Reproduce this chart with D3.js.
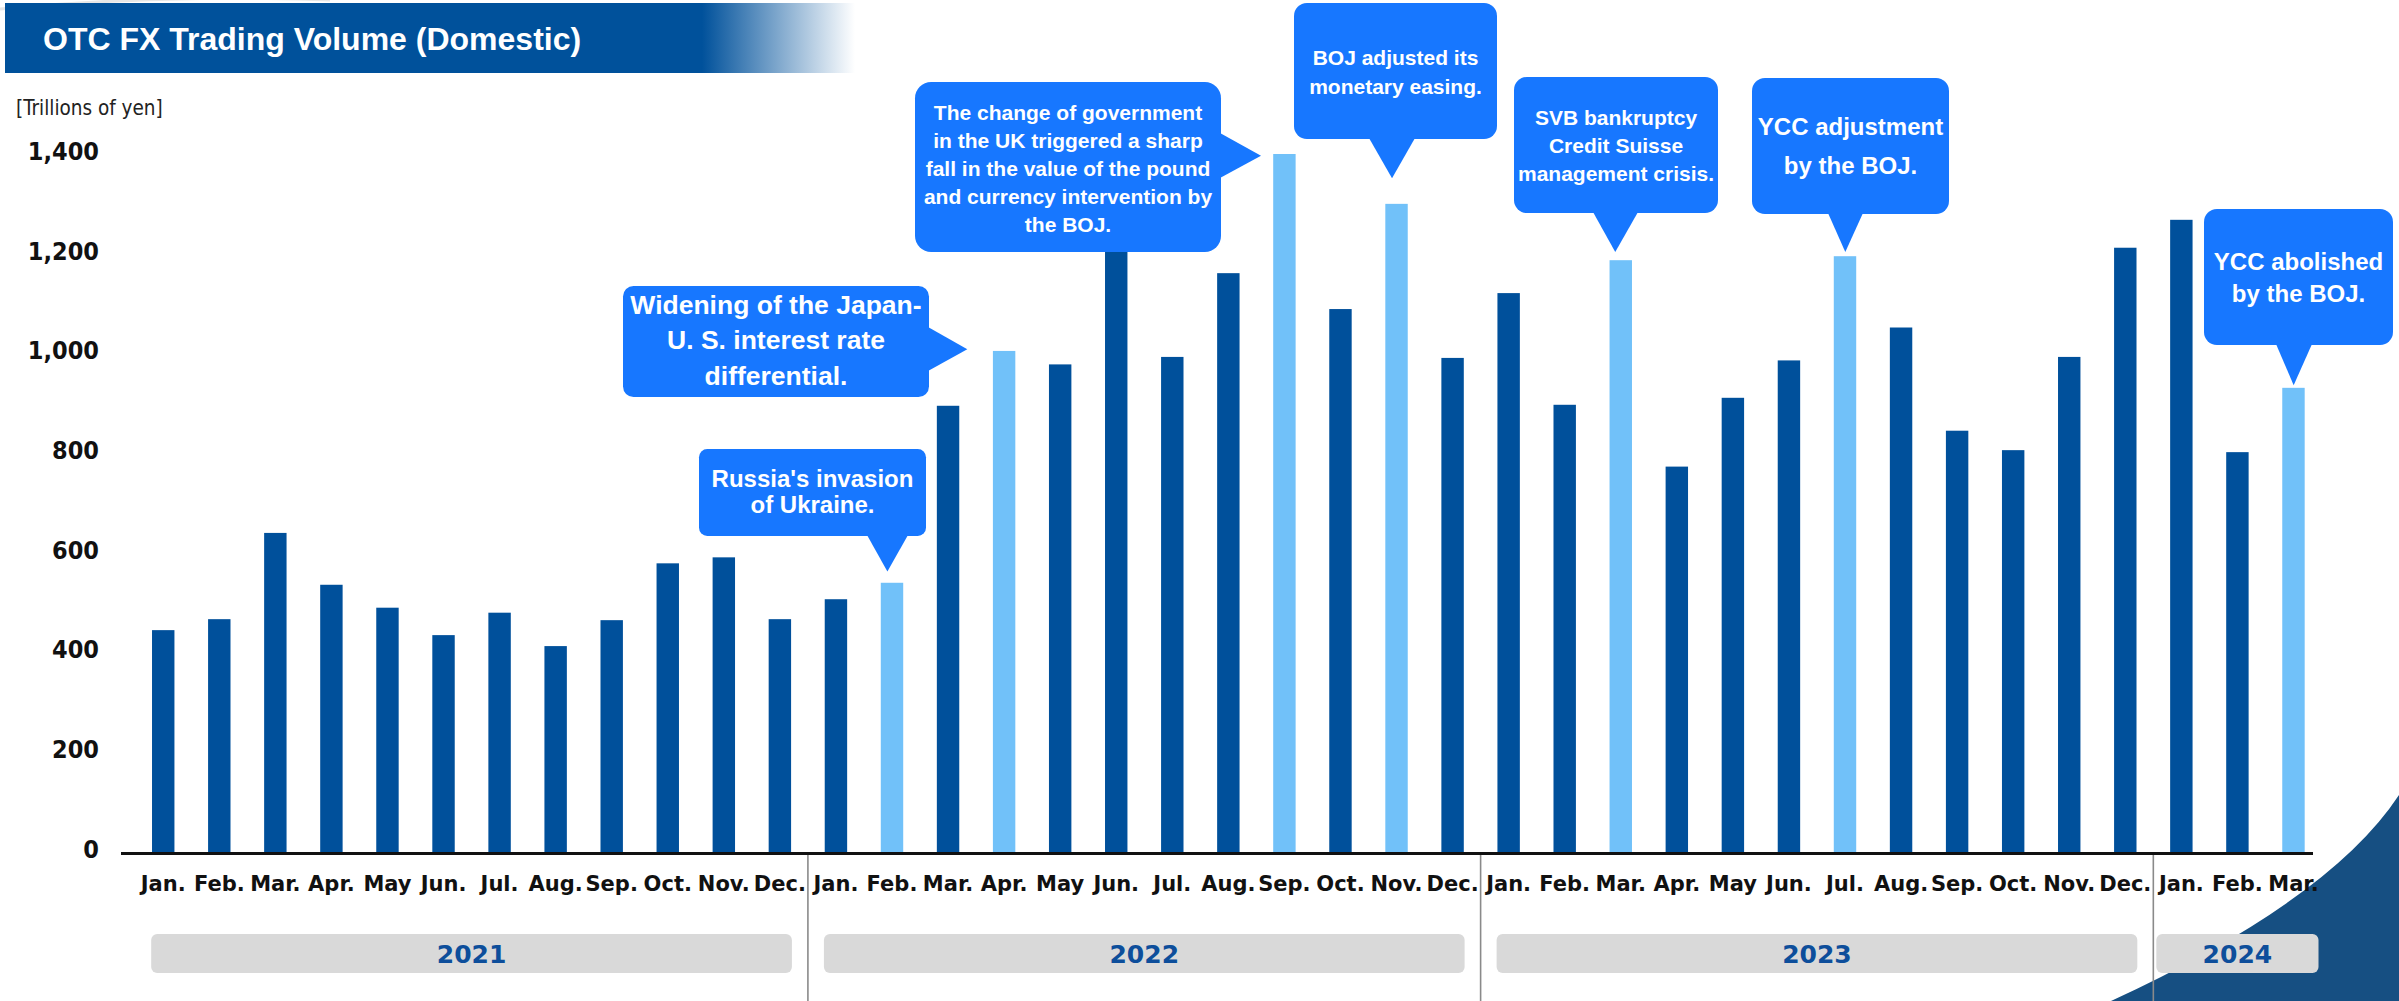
<!DOCTYPE html>
<html>
<head>
<meta charset="utf-8">
<script src="https://cdn.jsdelivr.net/npm/d3@7"></script>
<style>
    body { margin: 0; background: #ffffff; }
    svg { display: block; }
</style>
</head>
<body>
<div id="chart"></div>
<script>

// ---- data ----
const months = ["Jan.", "Feb.", "Mar.", "Apr.", "May", "Jun.", "Jul.", "Aug.", "Sep.", "Oct.", "Nov.", "Dec."];
const yearLabels = ["2021", "2022", "2023", "2024"];

// trillions of yen
const vol2021 = [445, 467, 640, 536, 490, 435, 480, 413, 465, 579, 591, 467];
const vol2022 = [507, 540, 895, 1005, 978, 1232, 993, 1161, 1400, 1089, 1300, 991];
const vol2023 = [1121, 897, 1187, 773, 911, 986, 1195, 1052, 845, 806, 993, 1212];
const vol2024 = [1268, 802, 931];

const yTicks = [0, 200, 400, 600, 800, 1000, 1200, 1400];

// months with an event callout (drawn in light blue)
const eventMonths = ["2022-Feb.", "2022-Apr.", "2022-Sep.", "2022-Nov.", "2023-Mar.", "2023-Jul.", "2024-Mar."];
const eventTexts = [
    ["Russia's invasion", "of Ukraine."],
    ["Widening of the Japan-", "U. S. interest rate", "differential."],
    ["The change of government", "in the UK triggered a sharp", "fall in the value of the pound", "and currency intervention by", "the BOJ."],
    ["BOJ adjusted its", "monetary easing."],
    ["SVB bankruptcy", "Credit Suisse", "management crisis."],
    ["YCC adjustment", "by the BOJ."],
    ["YCC abolished", "by the BOJ."]
];

// callout placement (layout only): box, pointer side, pointer base, tip offset from bar top
const calloutLayout = [
    { box: [699, 449, 227, 87],  side: "bottom", base: [867, 908],  tip: [-4.6, -11.3], fs: 24,   first: 30.3, gap: 25.7 },
    { box: [623, 286, 306, 111], side: "right",  base: [327, 371],  tip: [-36.8, -1.6], fs: 26.5, first: 19,   gap: 35.3 },
    { box: [915, 82, 306, 170],  side: "right",  base: [133, 178],  tip: [-23.4, 1.7],  fs: 21,   first: 30.5, gap: 28 },
    { box: [1294, 3, 203, 136],  side: "bottom", base: [1369, 1415], tip: [-4.5, -25.7], fs: 21,  first: 55,   gap: 29 },
    { box: [1514, 77, 204, 136], side: "bottom", base: [1593, 1638], tip: [-5.5, -8.3], fs: 21,   first: 41,   gap: 27.7 },
    { box: [1752, 78, 197, 136], side: "bottom", base: [1828, 1863], tip: [0.3, -4.3],  fs: 24,   first: 49,   gap: 39 },
    { box: [2204, 209, 189, 136], side: "bottom", base: [2276, 2312], tip: [0.2, -2.7], fs: 24,   first: 53.3, gap: 31.7 }
];


class VolumeChart {

    constructor(parentElement) {
        this.parentElement = parentElement;
        this.initVis();
    }

    initVis() {
        let vis = this;

        vis.width = 2399;
        vis.height = 1001;

        vis.colors = {
            bar: "#00509b",
            barEvent: "#71c1f9",
            callout: "#1777ff",
            title: "#00519b",
            yearBox: "#d9d9d9",
            yearText: "#0d4e9b"
        };

        // flatten the yearly arrays into one row per month
        vis.rows = [];
        [vol2021, vol2022, vol2023, vol2024].forEach((vals, yi) => {
            vals.forEach((v, mi) => {
                vis.rows.push({ key: yearLabels[yi] + "-" + months[mi], year: yearLabels[yi], month: months[mi], value: v });
            });
        });

        vis.svg = d3.select(vis.parentElement).append("svg")
            .attr("width", vis.width)
            .attr("height", vis.height);

        vis.x = d3.scaleBand()
            .domain(vis.rows.map(d => d.key))
            .range([135.2, 2321.5])
            .paddingInner(0.6)
            .paddingOuter(0.3);

        vis.y = d3.scaleLinear()
            .domain([0, 1400])
            .range([852, 154]);

        vis.drawDecor();
        vis.drawAxes();
        vis.drawBars();
        vis.drawCallouts();
    }

    drawDecor() {
        let vis = this;

        let defs = vis.svg.append("defs");
        let grad = defs.append("linearGradient")
            .attr("id", "titleFade")
            .attr("x1", "0").attr("x2", "1").attr("y1", "0").attr("y2", "0");
        grad.append("stop").attr("offset", "0").attr("stop-color", vis.colors.title);
        grad.append("stop").attr("offset", "0.82").attr("stop-color", vis.colors.title);
        grad.append("stop").attr("offset", "1").attr("stop-color", "#ffffff");

        // faint swoosh behind the title
        vis.svg.append("path")
            .attr("d", "M0,9 Q160,-6 330,0")
            .attr("fill", "none")
            .attr("stroke", "#e6e6e6")
            .attr("stroke-width", 3);

        vis.svg.append("rect")
            .attr("x", 5).attr("y", 3)
            .attr("width", 850).attr("height", 70)
            .attr("fill", "url(#titleFade)");

        vis.svg.append("text")
            .attr("x", 43).attr("y", 50)
            .attr("font-family", "'Liberation Sans', Arial, sans-serif")
            .attr("font-weight", "bold")
            .attr("font-size", 32)
            .attr("fill", "#ffffff")
            .text("OTC FX Trading Volume (Domestic)");

        vis.svg.append("text")
            .attr("x", 16).attr("y", 115)
            .attr("font-family", "'DejaVu Sans Condensed', 'DejaVu Sans', sans-serif")
            .attr("font-stretch", "condensed")
            .attr("font-size", 20.5)
            .attr("fill", "#222")
            .text("[Trillions of yen]");

        // dark wave in the bottom right corner
        vis.svg.append("path")
            .attr("d", "M2111,1001 Q2330,900 2399,795 L2399,1001 Z")
            .attr("fill", "#164f82");
    }

    drawAxes() {
        let vis = this;

        // y tick labels only (no gridlines in the original)
        vis.svg.append("g")
            .selectAll("text")
            .data(yTicks)
            .enter()
            .append("text")
            .attr("x", 99)
            .attr("y", d => vis.y(d) - 3.3 + 9.1)
            .attr("text-anchor", "end")
            .attr("font-family", "'DejaVu Sans Condensed', 'DejaVu Sans', sans-serif")
            .attr("font-stretch", "condensed")
            .attr("font-weight", "bold")
            .attr("font-size", 25)
            .attr("fill", "#111")
            .text(d => d3.format(",")(d));

        // month labels
        vis.svg.append("g")
            .selectAll("text")
            .data(vis.rows)
            .enter()
            .append("text")
            .attr("x", d => vis.x(d.key) + vis.x.bandwidth() / 2)
            .attr("y", 890.5)
            .attr("text-anchor", "middle")
            .attr("font-family", "'DejaVu Sans', Verdana, sans-serif")
            .attr("font-weight", "bold")
            .attr("font-size", 21)
            .attr("fill", "#111")
            .text(d => d.month);

        // year groups
        let step = vis.x.step();
        let groups = yearLabels.map(yr => {
            let keys = vis.rows.filter(d => d.year == yr).map(d => d.key);
            let x0 = vis.x(keys[0]) + vis.x.bandwidth() / 2 - step / 2;
            let x1 = vis.x(keys[keys.length - 1]) + vis.x.bandwidth() / 2 + step / 2;
            return { year: yr, x0: x0, x1: x1, n: keys.length };
        });

        // separators between years
        vis.svg.append("g")
            .selectAll("line")
            .data(groups.slice(1))
            .enter()
            .append("line")
            .attr("x1", d => d.x0).attr("x2", d => d.x0)
            .attr("y1", 855).attr("y2", vis.height)
            .attr("stroke", "#8a8a8a")
            .attr("stroke-width", 1.6);

        let inset = d => d.n == 12 ? 16 : 3;

        vis.svg.append("g")
            .selectAll("rect")
            .data(groups)
            .enter()
            .append("rect")
            .attr("x", d => d.x0 + inset(d))
            .attr("y", 934)
            .attr("width", d => d.x1 - d.x0 - 2 * inset(d))
            .attr("height", 39)
            .attr("rx", 6)
            .attr("fill", vis.colors.yearBox);

        vis.svg.append("g")
            .selectAll("text")
            .data(groups)
            .enter()
            .append("text")
            .attr("x", d => (d.x0 + d.x1) / 2)
            .attr("y", 963.4)
            .attr("text-anchor", "middle")
            .attr("font-family", "'DejaVu Sans', Verdana, sans-serif")
            .attr("font-weight", "bold")
            .attr("font-size", 25)
            .attr("fill", vis.colors.yearText)
            .text(d => d.year);
    }

    drawBars() {
        let vis = this;

        vis.svg.append("g")
            .selectAll("rect")
            .data(vis.rows)
            .enter()
            .append("rect")
            .attr("x", d => vis.x(d.key))
            .attr("y", d => vis.y(d.value))
            .attr("width", vis.x.bandwidth())
            .attr("height", d => vis.y(0) - vis.y(d.value))
            .attr("fill", d => eventMonths.includes(d.key) ? vis.colors.barEvent : vis.colors.bar);

        // baseline
        vis.svg.append("line")
            .attr("x1", 121).attr("x2", 2313)
            .attr("y1", vis.y(0) + 1.5).attr("y2", vis.y(0) + 1.5)
            .attr("stroke", "#111")
            .attr("stroke-width", 3);
    }

    drawCallouts() {
        let vis = this;

        let callouts = eventMonths.map((key, i) => {
            let row = vis.rows.find(d => d.key == key);
            return {
                lines: eventTexts[i],
                layout: calloutLayout[i],
                tipX: vis.x(key) + vis.x.bandwidth() / 2 + calloutLayout[i].tip[0],
                tipY: vis.y(row.value) + calloutLayout[i].tip[1]
            };
        });

        let g = vis.svg.append("g")
            .selectAll("g")
            .data(callouts)
            .enter()
            .append("g");

        g.append("rect")
            .attr("x", d => d.layout.box[0])
            .attr("y", d => d.layout.box[1])
            .attr("width", d => d.layout.box[2])
            .attr("height", d => d.layout.box[3])
            .attr("rx", d => 0.095 * Math.min(d.layout.box[2], d.layout.box[3]))
            .attr("fill", vis.colors.callout);

        g.append("path")
            .attr("d", d => {
                let b = d.layout.box;
                if (d.layout.side == "bottom") {
                    let yb = b[1] + b[3] - 1;
                    return `M${d.layout.base[0]},${yb} L${d.layout.base[1]},${yb} L${d.tipX},${d.tipY} Z`;
                }
                let xr = b[0] + b[2] - 1;
                return `M${xr},${d.layout.base[0]} L${xr},${d.layout.base[1]} L${d.tipX},${d.tipY} Z`;
            })
            .attr("fill", vis.colors.callout);

        g.each(function (d) {
            let b = d.layout.box;
            d3.select(this).selectAll("text")
                .data(d.lines)
                .enter()
                .append("text")
                .attr("x", b[0] + b[2] / 2)
                .attr("y", (t, j) => b[1] + d.layout.first + j * d.layout.gap + 0.34 * d.layout.fs)
                .attr("text-anchor", "middle")
                .attr("font-family", "'Liberation Sans', Arial, sans-serif")
                .attr("font-weight", "bold")
                .attr("font-size", d.layout.fs)
                .attr("fill", "#ffffff")
                .text(t => t);
        });
    }
}

new VolumeChart("#chart");
</script>
</body>
</html>
